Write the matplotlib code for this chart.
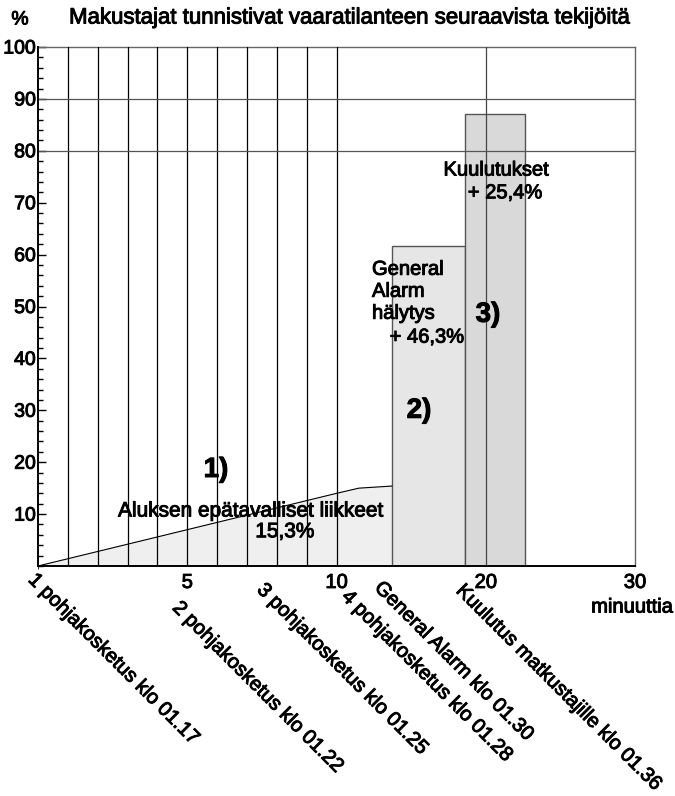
import numpy as np
import matplotlib
matplotlib.use("Agg")
from matplotlib import pyplot as plt
from matplotlib import patheffects
from matplotlib.ticker import MultipleLocator

plt.rcParams['font.family'] = ['Liberation Sans', 'DejaVu Sans']

# data (x in minutes after 01.17, y in %)
area_minutes = [0, 5, 10, 11.5, 12.6, 13.7]
area_percent = [0, 7.0, 14.0, 15.0, 15.2, 15.4]

bar_start = [13.7, 18.6]
bar_end = [18.6, 22.6]
bar_top = [61.6, 87.0]
bar_colors = ['#e6e6e6', '#d9d9d9']

event_minutes = [0, 5, 8, 11, 13, 19]
event_labels = [
    '1 pohjakosketus klo 01.17',
    '2 pohjakosketus klo 01.22',
    '3 pohjakosketus klo 01.25',
    '4 pohjakosketus klo 01.28',
    'General Alarm klo 01.30',
    'Kuulutus matkustajille klo 01.36',
]
# pixel offsets of each rotated label from its minute on the axis
event_offsets = [(0, -4), (-5, -32), (-10, -14), (0, -21), (3, -12), (-5, -15)]

x_ticks = [5, 10, 20, 30]
y_ticks = [10, 20, 30, 40, 50, 60, 70, 80, 90, 100]
grid_minutes = [1, 2, 3, 4, 5, 6, 7, 8, 9, 10]

# the printed original has heavy type, thicken the regular face a little
heavy = [patheffects.withStroke(linewidth=0.7, foreground='black')]


def forward(x):
    x = np.asarray(x, dtype=float)
    return np.where(x <= 10, x, 10 + (x - 10) / 2)


def inverse(t):
    t = np.asarray(t, dtype=float)
    return np.where(t <= 10, t, 10 + (t - 10) * 2)


fig = plt.figure(figsize=(6.75, 7.96), dpi=100)
ax = fig.add_axes([38 / 675, 1 - 566 / 796, 597 / 675, 519 / 796])
ax.set_xscale('function', functions=(forward, inverse))
ax.set_xlim(0, 30)
ax.set_ylim(0, 100)

# 1) ship movements
ax.fill_between(area_minutes, 0, area_percent, color='#efefef', zorder=1)
ax.plot(area_minutes, area_percent, color='black', lw=0.8, zorder=3)

# 2) and 3) alarm and announcements
for start, end, top, col in zip(bar_start, bar_end, bar_top, bar_colors):
    ax.bar(start, top, width=end - start, align='edge', color=col,
           edgecolor='#555555', linewidth=1, zorder=2)

# grid
for m in grid_minutes:
    ax.axvline(m, color='black', lw=0.9, zorder=4)
ax.axvline(20, color='#444444', lw=0.9, zorder=4)
for p in [80, 90]:
    ax.axhline(p, color='#555555', lw=0.9, zorder=4)

for side in ['top', 'right']:
    ax.spines[side].set_color('#666666')
    ax.spines[side].set_linewidth(1)
for side in ['left', 'bottom']:
    ax.spines[side].set_linewidth(1.4)
    ax.spines[side].set_zorder(5)

ax.set_xticks(x_ticks)
ax.set_xticklabels([str(v) for v in x_ticks])
ax.xaxis.set_minor_locator(MultipleLocator(100))
ax.tick_params(axis='x', length=0, pad=5, labelsize=14.5)

ax.set_yticks(y_ticks)
ax.yaxis.set_minor_locator(MultipleLocator(2))
ax.tick_params(axis='y', which='major', direction='in', length=6, width=1,
               pad=1.5, labelsize=14)
ax.tick_params(axis='y', which='minor', direction='in', length=3.5, width=1)
for lab in ax.get_xticklabels() + ax.get_yticklabels():
    lab.set_path_effects(heavy)

# rotated event labels below the axis
for m, lab, (dx, dy) in zip(event_minutes, event_labels, event_offsets):
    ax.annotate(lab, xy=(m, 0), xycoords=('data', 'axes fraction'),
                xytext=(dx, dy), textcoords='offset pixels',
                rotation=-45, rotation_mode='anchor', ha='left', va='top',
                fontsize=14.5, path_effects=heavy)

ax.annotate('minuuttia', xy=(30, 0), xycoords=('data', 'axes fraction'),
            xytext=(-3, -41), textcoords='offset pixels',
            ha='center', va='center', fontsize=14.5, path_effects=heavy)

# annotations inside the chart
ax.text(5.96, 18.5, '1)', fontsize=20, fontweight='bold', ha='center',
        va='center', zorder=6, path_effects=heavy)
ax.text(7.14, 10.6, 'Aluksen epätavalliset liikkeet', fontsize=15,
        ha='center', va='center', zorder=6, path_effects=heavy)
ax.text(8.27, 6.6, '15,3%', fontsize=15, ha='center', va='center', zorder=6,
        path_effects=heavy)

ax.text(12.38, 59.0, 'General\nAlarm\nhälytys', fontsize=14.5, ha='left',
        va='top', linespacing=1.2, zorder=6, path_effects=heavy)
ax.text(16.06, 44.1, '+ 46,3%', fontsize=14.5, ha='center', va='center',
        zorder=6, path_effects=heavy)
ax.text(15.53, 29.9, '2)', fontsize=20, fontweight='bold', ha='center',
        va='center', zorder=6, path_effects=heavy)

ax.text(20.69, 76.3, 'Kuulutukset', fontsize=14.5, ha='center', va='center',
        zorder=6, path_effects=heavy)
ax.text(21.29, 71.9, '+ 25,4%', fontsize=14.5, ha='center', va='center',
        zorder=6, path_effects=heavy)
ax.text(20.15, 48.4, '3)', fontsize=20, fontweight='bold', ha='center',
        va='center', zorder=6, path_effects=heavy)

fig.text(20 / 675, 1 - 20 / 796, '%', fontsize=14, ha='center', va='center',
         path_effects=heavy)
fig.text(351 / 675, 1 - 18 / 796,
         'Makustajat tunnistivat vaaratilanteen seuraavista tekijöitä',
         fontsize=16, ha='center', va='center', path_effects=heavy)

fig.savefig('out.png', dpi=100)
